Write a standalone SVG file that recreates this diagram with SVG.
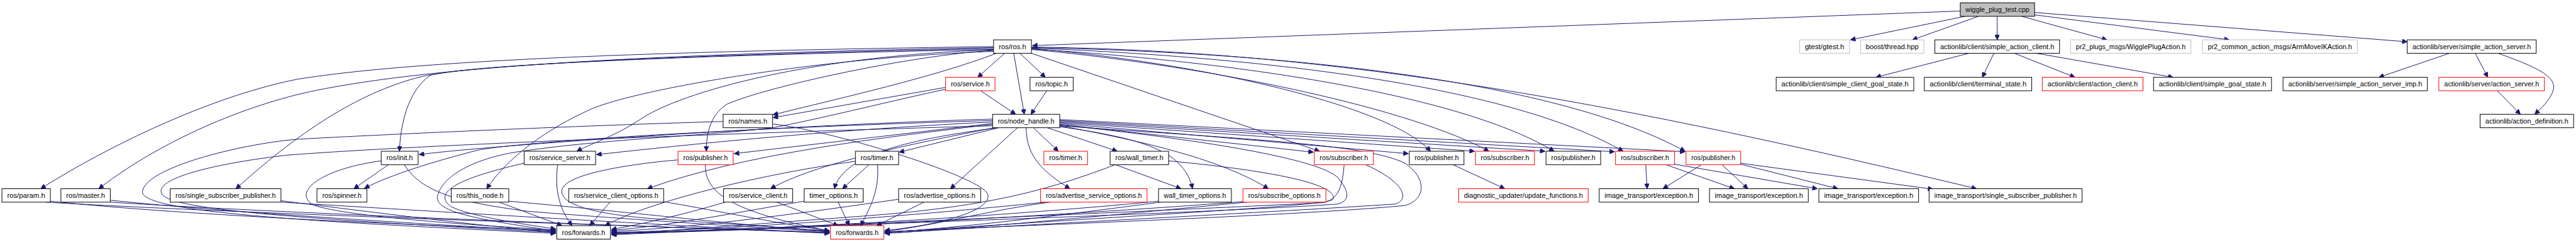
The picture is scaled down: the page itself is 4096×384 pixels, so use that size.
<svg xmlns="http://www.w3.org/2000/svg" width="4096" height="384" viewBox="0 0 4096 384">
<style>
.node rect{stroke-width:1.3}
.b{fill:#fff;stroke:#000}
.r{fill:#fff;stroke:#ff0000}
.g{fill:#fff;stroke:#bfbfbf}
.w{fill:#bfbfbf;stroke:#000}
.node text{font-family:"Liberation Sans",Arial,sans-serif;font-size:14px;fill:#000;text-anchor:middle}
#edges path{fill:none;stroke:#191970;stroke-width:1.3;marker-end:url(#ah)}
</style>
<defs>
<marker id="ah" viewBox="0 0 10 10" refX="10" refY="5" markerUnits="userSpaceOnUse" markerWidth="13" markerHeight="10" orient="auto">
<path d="M0,0 L10,5 L0,10 z" fill="#191970" stroke="#191970"/>
</marker>
</defs>
<rect width="4096" height="384" fill="#fff"/>
<g transform="scale(0.76247,0.76190)">
<g id="edges">
<path d="M4088,23 L2153,95"/>
<path d="M4098,34 L3859,83"/>
<path d="M4126,34 L3988,83"/>
<path d="M4165,34 L4165,83"/>
<path d="M4216,34 L4394,83"/>
<path d="M4243,31 L4649,83"/>
<path d="M4243,26 L5020,87"/>
<path d="M4106,111 L3912,161"/>
<path d="M4158,111 L4134,161"/>
<path d="M4201,111 L4327,161"/>
<path d="M4247,111 L4532,161"/>
<path d="M5108,111 L4961,161"/>
<path d="M5162,111 L5188,161"/>
<path d="M5210,111 C5290,140 5335,160 5324,190 C5316,210 5300,225 5286,238"/>
<path d="M5208,189 L5256,238"/>
<path d="M2095,111 L2039,161"/>
<path d="M2114,111 L2136,238"/>
<path d="M2127,111 L2180,161"/>
<path d="M2045,189 L2118,238"/>
<path d="M2183,189 L2150,238"/>
<path d="M1972,182 L1612,245"/>
<path d="M2078,111 C1950,160 1750,205 1612,239"/>
<path d="M1972,186 C1880,205 1700,250 1611,266 C1450,285 1250,290 1074,317 C980,333 920,370 912,410 C910,440 980,455 1159,481"/>
<path d="M2072,97 C1500,105 900,120 620,165 C420,205 200,320 85,393"/>
<path d="M2072,99 C1500,110 900,130 620,197 C450,240 300,320 206,393"/>
<path d="M2072,101 C1600,110 1000,130 877,160 C760,190 640,260 492,393"/>
<path d="M2072,103 C1600,112 1000,130 897,157 C850,190 835,260 833,315"/>
<path d="M2072,107 C1700,120 1300,190 1220,233 C1120,280 1050,340 1015,393"/>
<path d="M2072,105 C1900,115 1600,180 1516,217 C1480,240 1473,280 1473,315"/>
<path d="M2072,104 C1700,115 1420,190 1333,250 C1280,285 1230,300 1203,315"/>
<path d="M2151,111 L2752,315"/>
<path d="M2151,101 C2500,130 2900,220 2983,315"/>
<path d="M2151,103 C2550,140 2950,230 3105,315"/>
<path d="M2151,102 C2600,130 3050,200 3241,315"/>
<path d="M2151,100 C2650,120 3150,180 3385,315"/>
<path d="M2151,99 C2700,110 3250,170 3514,315"/>
<path d="M2151,98 C2800,105 3400,220 4122,393"/>
<path d="M2070,248 C1600,262 1000,305 874,322"/>
<path d="M2070,251 C1500,268 1080,296 995,313 C900,338 820,362 760,392"/>
<path d="M2070,254 C1700,272 1400,305 1244,322"/>
<path d="M2070,257 L1531,320"/>
<path d="M2070,259 C1850,285 1550,320 1350,393"/>
<path d="M2074,266 C1900,300 1700,340 1607,393"/>
<path d="M2080,266 C1900,290 1760,320 1740,393"/>
<path d="M2083,266 L1875,317"/>
<path d="M2122,266 L1982,393"/>
<path d="M2140,266 C2140,330 2180,360 2231,393"/>
<path d="M2155,266 L2207,315"/>
<path d="M2184,266 L2330,315"/>
<path d="M2210,264 C2400,290 2470,320 2487,393"/>
<path d="M2210,262 C2420,300 2560,340 2645,393"/>
<path d="M2210,259 L2739,317"/>
<path d="M2210,257 L2937,320"/>
<path d="M2210,255 L3075,315"/>
<path d="M2210,253 L3222,315"/>
<path d="M2210,251 L3367,316"/>
<path d="M2210,249 L3514,316"/>
<path d="M2210,262 C2600,290 2850,300 2930,340 C2975,370 2975,415 2930,428 C2700,450 2100,470 1845,483"/>
<path d="M2210,260 C2500,290 2750,330 2790,370 C2815,400 2815,418 2790,425 C2500,445 1700,470 1275,487"/>
<path d="M2070,262 C1600,275 900,300 600,323 C450,340 330,370 336,400 C340,430 500,450 1159,484"/>
<path d="M1508,253 C1200,262 800,280 620,290 C500,300 300,350 297,400 C300,440 600,460 1159,486"/>
<path d="M1611,258 C1750,275 2050,370 2060,405 C2070,440 1950,470 1845,480"/>
<path d="M105,419 C400,450 900,470 1159,480"/>
<path d="M230,417 C500,445 950,470 1159,482"/>
<path d="M586,418 C800,445 1000,470 1159,484"/>
<path d="M795,335 C680,350 610,395 650,425 C700,450 1000,470 1159,479"/>
<path d="M1093,340 C960,370 900,400 940,430 C980,450 1080,465 1159,477"/>
<path d="M1041,421 L1172,470"/>
<path d="M1163,343 C1155,400 1170,440 1193,470"/>
<path d="M1272,421 L1230,470"/>
<path d="M1784,336 C1600,360 1350,420 1262,470"/>
<path d="M1414,333 C1330,340 1180,360 1172,395 C1165,430 1260,450 1400,458 C1550,468 1680,478 1730,481"/>
<path d="M1512,421 C1450,440 1350,465 1275,478"/>
<path d="M1677,419 C1550,440 1400,470 1275,480"/>
<path d="M1874,415 C1700,440 1450,475 1275,482"/>
<path d="M2180,421 C1900,450 1500,480 1275,484"/>
<path d="M2416,419 C2100,450 1600,480 1275,485"/>
<path d="M2592,420 C2200,450 1600,482 1275,486"/>
<path d="M2326,343 C2200,390 2077,430 1800,450 C1600,465 1400,480 1275,488"/>
<path d="M2803,343 C2800,390 2790,415 2760,422 C2400,440 1700,470 1275,489"/>
<path d="M2437,335 C2700,360 2790,390 2780,415 C2770,428 2500,440 1845,484"/>
<path d="M2848,343 C2930,380 2940,415 2910,425 C2600,445 2100,470 1845,486"/>
<path d="M95,421 C500,445 1300,470 1730,484"/>
<path d="M230,421 C600,445 1300,470 1730,485"/>
<path d="M586,421 C900,440 1400,470 1730,486"/>
<path d="M843,343 C880,400 950,420 1100,440 C1350,460 1600,475 1730,483"/>
<path d="M1061,419 C1300,440 1550,470 1730,482"/>
<path d="M1384,420 C1500,440 1650,470 1730,481"/>
<path d="M1471,343 C1470,400 1520,440 1730,481"/>
<path d="M1620,421 L1748,470"/>
<path d="M1748,421 L1771,470"/>
<path d="M1830,343 C1835,400 1810,440 1795,470"/>
<path d="M1927,421 L1828,470"/>
<path d="M2190,421 C2050,440 1950,470 1845,482"/>
<path d="M2420,421 C2200,450 2000,475 1845,484"/>
<path d="M2600,421 C2300,450 2000,478 1845,486"/>
<path d="M810,343 L738,393"/>
<path d="M2326,343 L2463,393"/>
<path d="M1812,343 L1757,393"/>
<path d="M3030,343 L3138,393"/>
<path d="M3432,343 L3435,393"/>
<path d="M3474,343 L3617,393"/>
<path d="M3492,342 L3790,393"/>
<path d="M3548,343 L3468,393"/>
<path d="M3591,343 L3645,393"/>
<path d="M3630,342 L3833,393"/>
<path d="M3630,340 L4031,394"/>
</g>
<g id="n_wiggle" class="node"><rect class="w" x="4088" y="6" width="155" height="28"/><text x="4165.5" y="25" textLength="133" lengthAdjust="spacingAndGlyphs">wiggle_plug_test.cpp</text></g>
<g id="n_ros" class="node"><rect class="b" x="2072" y="83" width="79" height="28"/><text x="2111.5" y="102" textLength="57" lengthAdjust="spacingAndGlyphs">ros/ros.h</text></g>
<g id="n_gtest" class="node"><rect class="g" x="3753" y="83" width="104" height="28"/><text x="3805" y="102" textLength="82" lengthAdjust="spacingAndGlyphs">gtest/gtest.h</text></g>
<g id="n_boost" class="node"><rect class="g" x="3880" y="83" width="132" height="28"/><text x="3946" y="102" textLength="110" lengthAdjust="spacingAndGlyphs">boost/thread.hpp</text></g>
<g id="n_sac" class="node"><rect class="b" x="4035" y="83" width="260" height="28"/><text x="4165" y="102" textLength="238" lengthAdjust="spacingAndGlyphs">actionlib/client/simple_action_client.h</text></g>
<g id="n_wiggleaction" class="node"><rect class="g" x="4318" y="83" width="251" height="28"/><text x="4443.5" y="102" textLength="229" lengthAdjust="spacingAndGlyphs">pr2_plugs_msgs/WigglePlugAction.h</text></g>
<g id="n_armmove" class="node"><rect class="g" x="4593" y="83" width="323" height="28"/><text x="4754.5" y="102" textLength="301" lengthAdjust="spacingAndGlyphs">pr2_common_action_msgs/ArmMoveIKAction.h</text></g>
<g id="n_sas" class="node"><rect class="b" x="5020" y="83" width="269" height="28"/><text x="5154.5" y="102" textLength="247" lengthAdjust="spacingAndGlyphs">actionlib/server/simple_action_server.h</text></g>
<g id="n_service" class="node"><rect class="r" x="1972" y="161" width="103" height="28"/><text x="2023.5" y="180" textLength="81" lengthAdjust="spacingAndGlyphs">ros/service.h</text></g>
<g id="n_topic" class="node"><rect class="b" x="2148" y="161" width="90" height="28"/><text x="2193" y="180" textLength="68" lengthAdjust="spacingAndGlyphs">ros/topic.h</text></g>
<g id="n_scgs" class="node"><rect class="b" x="3704" y="161" width="287" height="28"/><text x="3847.5" y="180" textLength="265" lengthAdjust="spacingAndGlyphs">actionlib/client/simple_client_goal_state.h</text></g>
<g id="n_terminal" class="node"><rect class="b" x="4013" y="161" width="224" height="28"/><text x="4125" y="180" textLength="202" lengthAdjust="spacingAndGlyphs">actionlib/client/terminal_state.h</text></g>
<g id="n_actionclient" class="node"><rect class="r" x="4259" y="161" width="210" height="28"/><text x="4364" y="180" textLength="188" lengthAdjust="spacingAndGlyphs">actionlib/client/action_client.h</text></g>
<g id="n_sgs" class="node"><rect class="b" x="4491" y="161" width="246" height="28"/><text x="4614" y="180" textLength="224" lengthAdjust="spacingAndGlyphs">actionlib/client/simple_goal_state.h</text></g>
<g id="n_sasimp" class="node"><rect class="b" x="4761" y="161" width="301" height="28"/><text x="4911.5" y="180" textLength="279" lengthAdjust="spacingAndGlyphs">actionlib/server/simple_action_server_imp.h</text></g>
<g id="n_actionserver" class="node"><rect class="r" x="5086" y="161" width="220" height="28"/><text x="5196" y="180" textLength="198" lengthAdjust="spacingAndGlyphs">actionlib/server/action_server.h</text></g>
<g id="n_names" class="node"><rect class="b" x="1508" y="238" width="103" height="28"/><text x="1559.5" y="257" textLength="81" lengthAdjust="spacingAndGlyphs">ros/names.h</text></g>
<g id="n_nh" class="node"><rect class="b" x="2070" y="238" width="140" height="28"/><text x="2140" y="257" textLength="118" lengthAdjust="spacingAndGlyphs">ros/node_handle.h</text></g>
<g id="n_actiondef" class="node"><rect class="b" x="5172" y="238" width="195" height="28"/><text x="5269.5" y="257" textLength="173" lengthAdjust="spacingAndGlyphs">actionlib/action_definition.h</text></g>
<g id="n_init" class="node"><rect class="b" x="795" y="315" width="77" height="28"/><text x="833.5" y="334" textLength="55" lengthAdjust="spacingAndGlyphs">ros/init.h</text></g>
<g id="n_sserver" class="node"><rect class="b" x="1093" y="315" width="149" height="28"/><text x="1167.5" y="334" textLength="127" lengthAdjust="spacingAndGlyphs">ros/service_server.h</text></g>
<g id="n_pub1" class="node"><rect class="r" x="1414" y="315" width="115" height="28"/><text x="1471.5" y="334" textLength="93" lengthAdjust="spacingAndGlyphs">ros/publisher.h</text></g>
<g id="n_timerB" class="node"><rect class="b" x="1784" y="315" width="90" height="28"/><text x="1829" y="334" textLength="68" lengthAdjust="spacingAndGlyphs">ros/timer.h</text></g>
<g id="n_timerR" class="node"><rect class="r" x="2177" y="315" width="91" height="28"/><text x="2222.5" y="334" textLength="69" lengthAdjust="spacingAndGlyphs">ros/timer.h</text></g>
<g id="n_walltimer" class="node"><rect class="b" x="2315" y="315" width="122" height="28"/><text x="2376" y="334" textLength="100" lengthAdjust="spacingAndGlyphs">ros/wall_timer.h</text></g>
<g id="n_sub1" class="node"><rect class="r" x="2741" y="315" width="123" height="28"/><text x="2802.5" y="334" textLength="101" lengthAdjust="spacingAndGlyphs">ros/subscriber.h</text></g>
<g id="n_pub2" class="node"><rect class="b" x="2939" y="315" width="114" height="28"/><text x="2996" y="334" textLength="92" lengthAdjust="spacingAndGlyphs">ros/publisher.h</text></g>
<g id="n_sub2" class="node"><rect class="r" x="3077" y="315" width="123" height="28"/><text x="3138.5" y="334" textLength="101" lengthAdjust="spacingAndGlyphs">ros/subscriber.h</text></g>
<g id="n_pub3" class="node"><rect class="b" x="3224" y="315" width="114" height="28"/><text x="3281" y="334" textLength="92" lengthAdjust="spacingAndGlyphs">ros/publisher.h</text></g>
<g id="n_sub3" class="node"><rect class="r" x="3369" y="315" width="123" height="28"/><text x="3430.5" y="334" textLength="101" lengthAdjust="spacingAndGlyphs">ros/subscriber.h</text></g>
<g id="n_pub4" class="node"><rect class="r" x="3516" y="315" width="114" height="28"/><text x="3573" y="334" textLength="92" lengthAdjust="spacingAndGlyphs">ros/publisher.h</text></g>
<g id="n_param" class="node"><rect class="b" x="4" y="393" width="101" height="28"/><text x="54.5" y="412" textLength="79" lengthAdjust="spacingAndGlyphs">ros/param.h</text></g>
<g id="n_master" class="node"><rect class="b" x="127" y="393" width="103" height="28"/><text x="178.5" y="412" textLength="81" lengthAdjust="spacingAndGlyphs">ros/master.h</text></g>
<g id="n_ssp" class="node"><rect class="b" x="355" y="393" width="231" height="28"/><text x="470.5" y="412" textLength="209" lengthAdjust="spacingAndGlyphs">ros/single_subscriber_publisher.h</text></g>
<g id="n_spinner" class="node"><rect class="b" x="661" y="393" width="104" height="28"/><text x="713" y="412" textLength="82" lengthAdjust="spacingAndGlyphs">ros/spinner.h</text></g>
<g id="n_thisnode" class="node"><rect class="b" x="941" y="393" width="120" height="28"/><text x="1001" y="412" textLength="98" lengthAdjust="spacingAndGlyphs">ros/this_node.h</text></g>
<g id="n_sco" class="node"><rect class="b" x="1186" y="393" width="198" height="28"/><text x="1285" y="412" textLength="176" lengthAdjust="spacingAndGlyphs">ros/service_client_options.h</text></g>
<g id="n_sclient" class="node"><rect class="b" x="1509" y="393" width="144" height="28"/><text x="1581" y="412" textLength="122" lengthAdjust="spacingAndGlyphs">ros/service_client.h</text></g>
<g id="n_timeropt" class="node"><rect class="b" x="1677" y="393" width="123" height="28"/><text x="1738.5" y="412" textLength="101" lengthAdjust="spacingAndGlyphs">timer_options.h</text></g>
<g id="n_advopt" class="node"><rect class="b" x="1874" y="393" width="171" height="28"/><text x="1959.5" y="412" textLength="149" lengthAdjust="spacingAndGlyphs">ros/advertise_options.h</text></g>
<g id="n_advsrvopt" class="node"><rect class="r" x="2170" y="393" width="222" height="28"/><text x="2281" y="412" textLength="200" lengthAdjust="spacingAndGlyphs">ros/advertise_service_options.h</text></g>
<g id="n_wtopt" class="node"><rect class="b" x="2416" y="393" width="152" height="28"/><text x="2492" y="412" textLength="130" lengthAdjust="spacingAndGlyphs">wall_timer_options.h</text></g>
<g id="n_subopt" class="node"><rect class="r" x="2592" y="393" width="173" height="28"/><text x="2678.5" y="412" textLength="151" lengthAdjust="spacingAndGlyphs">ros/subscribe_options.h</text></g>
<g id="n_diag" class="node"><rect class="r" x="3042" y="393" width="270" height="28"/><text x="3177" y="412" textLength="248" lengthAdjust="spacingAndGlyphs">diagnostic_updater/update_functions.h</text></g>
<g id="n_exc1" class="node"><rect class="b" x="3335" y="393" width="207" height="28"/><text x="3438.5" y="412" textLength="185" lengthAdjust="spacingAndGlyphs">image_transport/exception.h</text></g>
<g id="n_exc2" class="node"><rect class="b" x="3565" y="393" width="206" height="28"/><text x="3668" y="412" textLength="184" lengthAdjust="spacingAndGlyphs">image_transport/exception.h</text></g>
<g id="n_exc3" class="node"><rect class="b" x="3793" y="393" width="208" height="28"/><text x="3897" y="412" textLength="186" lengthAdjust="spacingAndGlyphs">image_transport/exception.h</text></g>
<g id="n_itssp" class="node"><rect class="b" x="4023" y="393" width="319" height="28"/><text x="4182.5" y="412" textLength="297" lengthAdjust="spacingAndGlyphs">image_transport/single_subscriber_publisher.h</text></g>
<g id="n_fwdB" class="node"><rect class="b" x="1161" y="470" width="112" height="28"/><text x="1217" y="489" textLength="90" lengthAdjust="spacingAndGlyphs">ros/forwards.h</text></g>
<g id="n_fwdR" class="node"><rect class="r" x="1732" y="470" width="111" height="28"/><text x="1787.5" y="489" textLength="89" lengthAdjust="spacingAndGlyphs">ros/forwards.h</text></g>
</g>
</svg>
